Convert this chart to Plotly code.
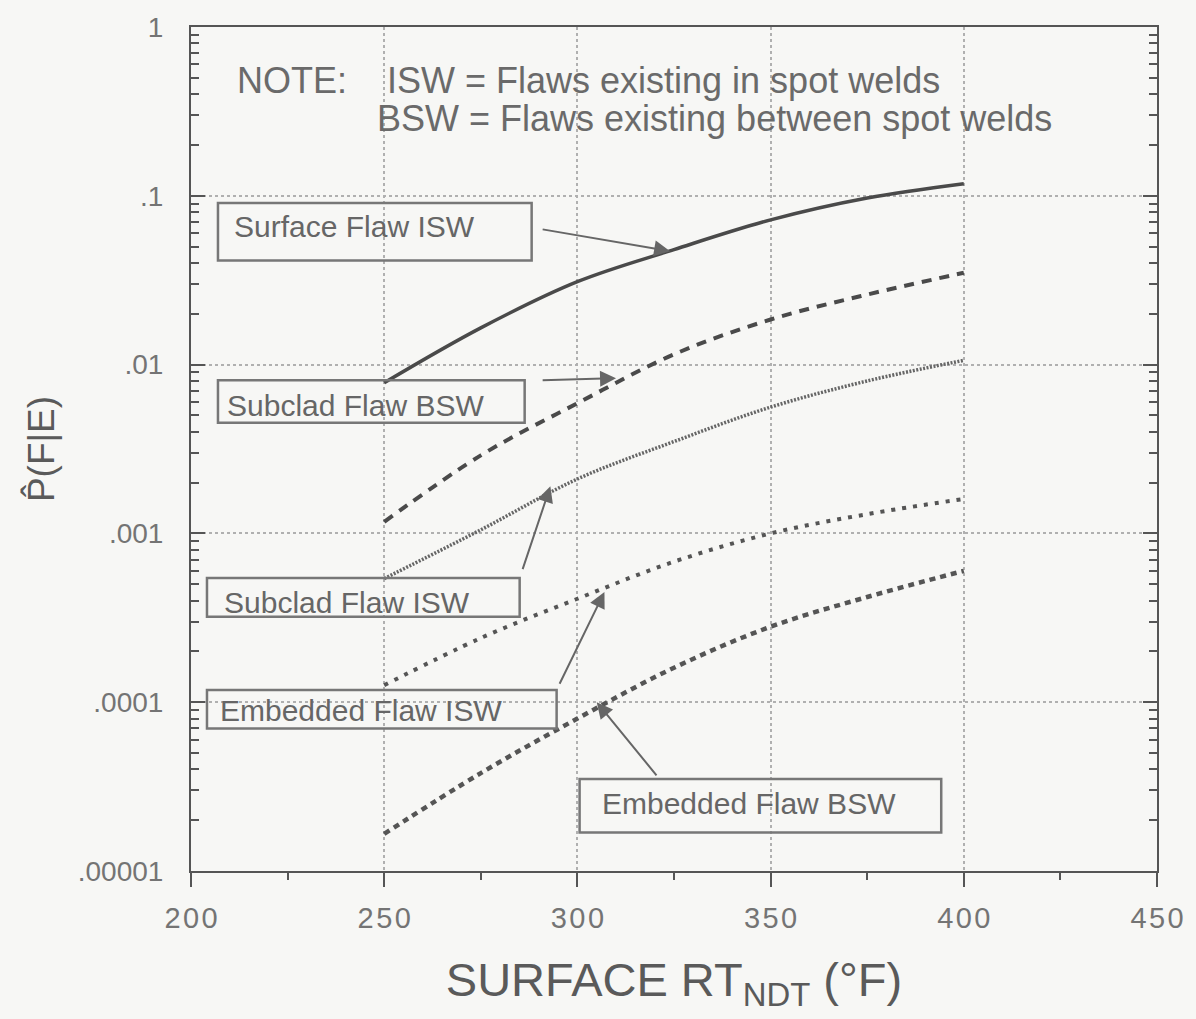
import math
import plotly.graph_objects as go

rt = [250, 275, 300, 325, 350, 375, 400]
surface_isw = [0.0078, 0.0165, 0.031, 0.048, 0.072, 0.097, 0.118]
subclad_bsw = [0.00117, 0.0029, 0.0059, 0.0115, 0.0185, 0.026, 0.035]
subclad_isw = [0.00054, 0.00105, 0.0021, 0.0035, 0.0056, 0.0080, 0.0106]
embedded_isw = [0.000126, 0.00024, 0.00041, 0.00068, 0.00100, 0.00130, 0.0016]
embedded_bsw = [0.0000166, 0.000038, 0.000080, 0.000160, 0.00028, 0.00042, 0.00060]

y_tickvals = [0.00001, 0.0001, 0.001, 0.01, 0.1, 1]
y_ticktext = [".00001", ".0001", ".001", ".01", ".1", "1"]
x_tickvals = [200, 250, 300, 350, 400, 450]
x_ticktext = ["2\u200a0\u200a0", "2\u200a5\u200a0", "3\u200a0\u200a0", "3\u200a5\u200a0", "4\u200a0\u200a0", "4\u200a5\u200a0"]

LINE = "#4a4a4a"
TXT = "#747474"
GRID = "#b0b0b0"
FONT = "Liberation Sans, Arial"

fig = go.Figure()
series = [
    (surface_isw, dict(color=LINE, width=3.5, dash="solid")),
    (subclad_bsw, dict(color=LINE, width=4, dash="10px,8px")),
    (subclad_isw, dict(color="#666", width=3.5, dash="2px,1.5px")),
    (embedded_isw, dict(color="#555", width=4, dash="4px,7px")),
    (embedded_bsw, dict(color="#555", width=4.5, dash="6px,5px")),
]
for vals, ln in series:
    fig.add_trace(go.Scatter(x=rt, y=vals, mode="lines", line=dict(shape="spline", **ln), showlegend=False))

minor_y = [m * 10 ** e for e in range(-5, 0) for m in range(2, 10)]

fig.update_xaxes(range=[200, 450], tickvals=x_tickvals, ticktext=x_ticktext, ticks="outside", ticklen=14, tickwidth=2,
                 tickcolor="#555", showline=True, linecolor="#555", linewidth=2, mirror=True,
                 showgrid=True, gridcolor=GRID, griddash="dot", gridwidth=1.5,
                 minor=dict(dtick=25, tick0=200, ticks="outside", ticklen=7, tickwidth=2, tickcolor="#555", showgrid=False),
                 tickfont=dict(family=FONT, size=29, color=TXT), ticklabelstandoff=6,
                 title=dict(text="SURFACE RT<sub>NDT</sub> (°F)", font=dict(family=FONT, size=47, color="#5a5a5a"), standoff=30),
                 zeroline=False)
fig.update_yaxes(type="log", range=[-5, 0], tickvals=y_tickvals, ticktext=y_ticktext, ticks="inside", ticklen=14,
                 tickwidth=2, tickcolor="#555", showline=True, linecolor="#555", linewidth=2, mirror="allticks",
                 showgrid=True, gridcolor=GRID, griddash="dot", gridwidth=1.5,
                 minor=dict(tickvals=minor_y, ticks="inside", ticklen=8, tickwidth=2, tickcolor="#555", showgrid=False),
                 tickfont=dict(family=FONT, size=28, color=TXT), ticklabelstandoff=20,
                 title=dict(text="P\u0302(F|E)", font=dict(family=FONT, size=37, color="#5a5a5a"), standoff=12))

box_font = dict(family=FONT, size=30, color="#666")
# (text, box left/right/top/bottom in px, text x px, text centre y px)
boxes = [
    ("Surface Flaw ISW", 218, 532, 196, 254, 232, 220),
    ("Subclad Flaw BSW", 218, 525, 375, 418, 225, 401),
    ("Subclad Flaw ISW", 207, 520, 575, 614, 222, 600),
    ("Embedded Flaw ISW", 207, 557, 688, 727, 218, 709),
    ("Embedded Flaw BSW", 580, 942, 778, 832, 600, 803),
]
# pixel -> paper helpers (plot area: left 191, right 1158, top 18, bottom 871)
L, R, T, B = 191, 1158, 18, 871
def px(xp):
    return (xp - L) / (R - L)
def py(yp):
    return (B - yp) / (B - T)

for text, x0, x1, y0, y1, tx, ty in boxes:
    fig.add_shape(type="rect", xref="paper", yref="paper", x0=px(x0), x1=px(x1), y0=py(y1), y1=py(y0),
                  line=dict(color="#777", width=2.5), fillcolor="rgba(0,0,0,0)")
    fig.add_annotation(xref="paper", yref="paper", x=px(tx), y=py(ty), text=text,
                       showarrow=False, xanchor="left", yanchor="middle", font=box_font)

# arrows: (head x data, head y data, tail px x, tail px y)
arrows = [
    (324, 0.047, 540, 222),
    (310, 0.0083, 540, 375),
    (293, 0.0019, 520, 575),
    (307, 0.00045, 557, 688),
    (305, 0.0001, 660, 778),
]
for hx, hy, tx, ty in arrows:
    fig.add_annotation(x=hx, y=math.log10(hy), xref="x", yref="y",
                       ax=200 + px(tx) * 250, ay=-5 + py(ty) * 5, axref="x", ayref="y",
                       text=" ", showarrow=True, arrowhead=2, arrowsize=1.6, standoff=0, startstandoff=0,
                       arrowwidth=2, arrowcolor="#666")

note_font = dict(family=FONT, size=36, color="#6a6a6a")
fig.add_annotation(xref="paper", yref="paper", x=px(235), y=py(72), text="NOTE:",
                   showarrow=False, xanchor="left", yanchor="middle", font=note_font)
fig.add_annotation(xref="paper", yref="paper", x=px(385), y=py(72), text="ISW = Flaws existing in spot welds",
                   showarrow=False, xanchor="left", yanchor="middle", font=note_font)
fig.add_annotation(xref="paper", yref="paper", x=px(375), y=py(110), text="BSW = Flaws existing between spot welds",
                   showarrow=False, xanchor="left", yanchor="middle", font=note_font)

fig.update_layout(width=1196, height=1019, margin=dict(l=191, r=38, t=18, b=148),
                  plot_bgcolor="#f7f7f5", paper_bgcolor="#f7f7f5", showlegend=False)
fig.write_html("out.html")
